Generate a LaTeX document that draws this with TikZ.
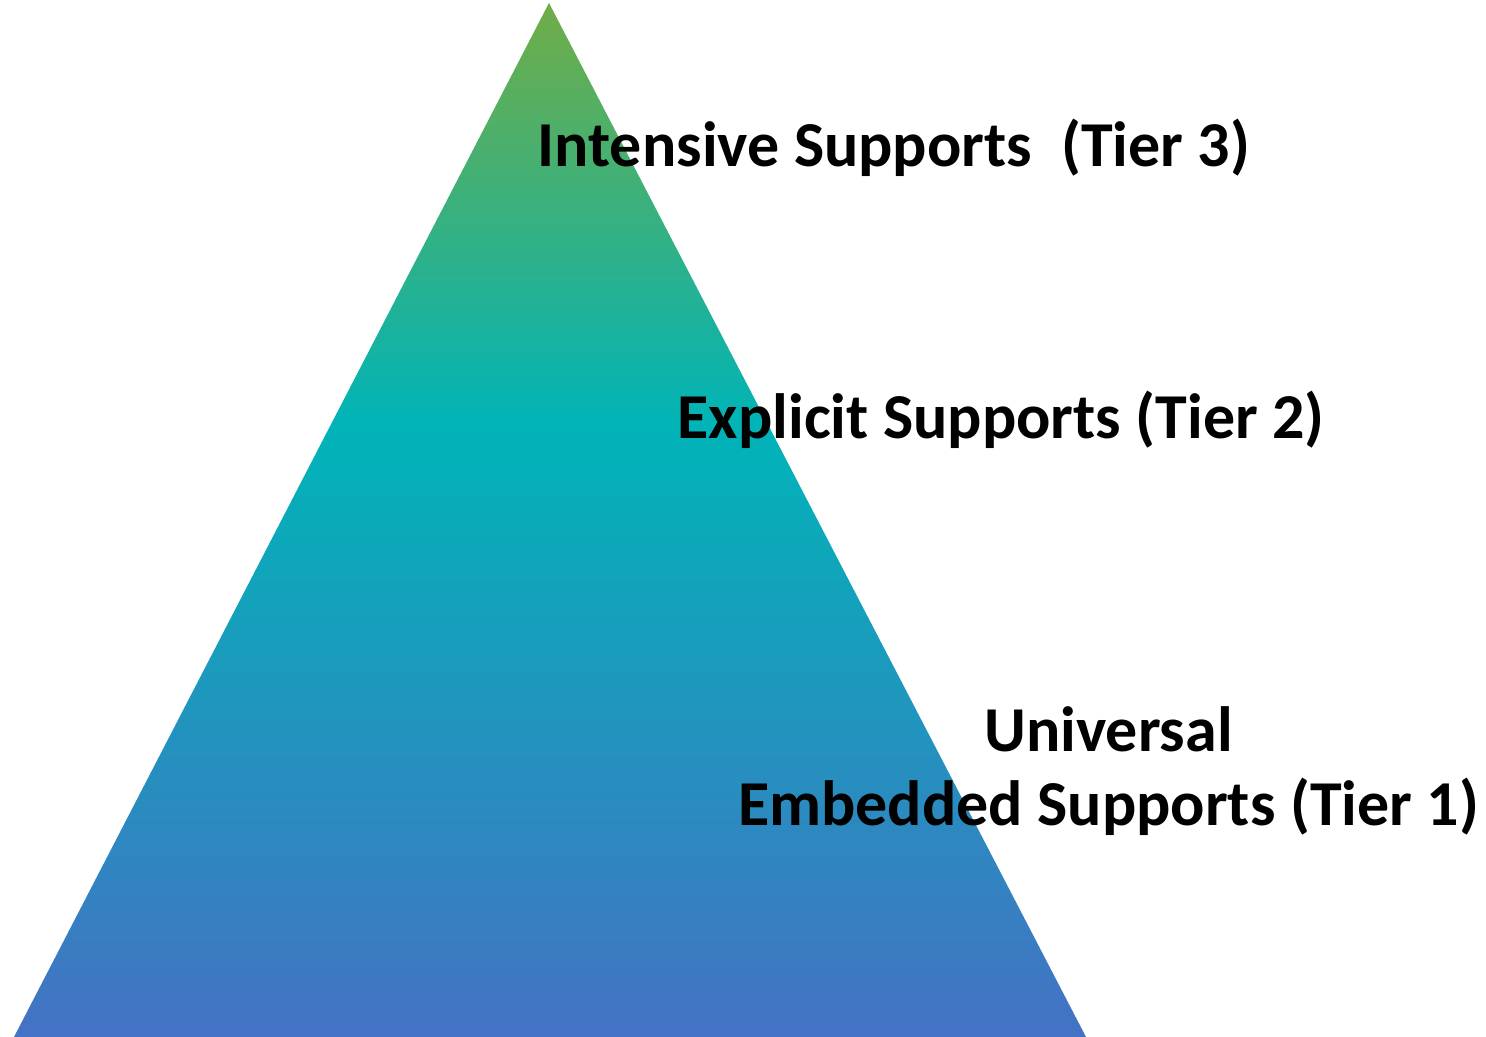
\documentclass[tikz,border=0pt]{standalone}
\usepackage{fontspec}
\setmainfont{Carlito}
\definecolor{tiergreen}{HTML}{70AD47}
\definecolor{tierteal}{HTML}{00B4B8}
\definecolor{tierblue}{HTML}{4472C4}
\pgfdeclareverticalshading{pyramid}{100bp}{color(0bp)=(tierblue); color(25bp)=(tierblue); color(54.5bp)=(tierteal); color(75bp)=(tiergreen); color(100bp)=(tiergreen)}
\tikzset{
  tier/.style={font=\bfseries\fontsize{18.2}{21.3}\selectfont, inner sep=0pt, text=black}
}

\begin{document}
\begin{tikzpicture}
            \useasboundingbox (0,0) rectangle (14.86,10.37);
            \shade [shading=pyramid] (0.14,0) -- (5.49,10.34) -- (10.86,0) -- cycle;

            \node[tier, anchor=base west] (t3) at (5.37,8.70) {Intensive Supports\ \ (Tier 3)};
            \node[tier, anchor=base west] (t2) at (6.77,5.98) {Explicit Supports (Tier 2)};
            \node[tier, align=center, anchor=base] (t1) at (11.085,2.11) {Universal\\Embedded Supports (Tier 1)};
        \end{tikzpicture}
\end{document}
